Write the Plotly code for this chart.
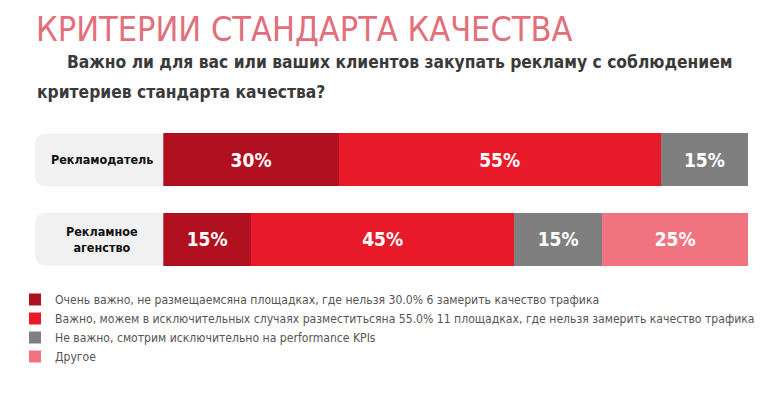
import plotly.graph_objects as go

categories = ["Рекламодатель", "Рекламное<br>агенство"]
series_names = [
    "Очень важно, не размещаемсяна площадках, где нельзя 30.0% 6 замерить качество трафика",
    "Важно, можем в исключительных случаях разместитьсяна 55.0% 11 площадках, где нельзя замерить качество трафика",
    "Не важно, смотрим исключительно на performance KPIs",
    "Другое",
]
very_important = [30, 15]
important = [55, 45]
not_important = [15, 15]
other = [0, 25]
series_values = [very_important, important, not_important, other]
colors = ["#b0101f", "#e81a2a", "#7f7f7f", "#f0737f"]

title_text = "КРИТЕРИИ СТАНДАРТА КАЧЕСТВА"
subtitle_line1 = "Важно ли для вас или ваших клиентов закупать рекламу с соблюдением"
subtitle_line2 = "критериев стандарта качества?"

NARROW = "Liberation Sans Narrow, DejaVu Sans Condensed, Arial Narrow, sans-serif"
# page has an 8px body margin; figure sized to fit the 770x398 window
OFF = 8
W, H = 770 - 2 * OFF, 398 - 2 * OFF

fig = go.Figure()
for i, (name, vals, col) in enumerate(zip(series_names, series_values, colors)):
    fig.add_trace(go.Bar(
        y=categories, x=vals, name=name, orientation="h",
        legendgroup=f"g{i}",
        marker=dict(color=col, line=dict(width=0)),
        text=[f"{v}%" if v else "" for v in vals],
        textposition="inside", insidetextanchor="middle",
        textfont=dict(family=NARROW, size=19, color="white", weight="bold"),
        hoverinfo="skip",
    ))


def px(x):
    return (x - OFF) / W


def py(y):
    return 1 - (y - OFF) / H


shapes = []
for (yt, yb) in [(133.5, 186.5), (212.5, 265.5)]:
    x0, x1, r = 35, 166, 12
    path = (f"M {px(x0 + r)},{py(yt)} L {px(x1)},{py(yt)} L {px(x1)},{py(yb)} "
            f"L {px(x0 + r)},{py(yb)} Q {px(x0)},{py(yb)} {px(x0)},{py(yb - r)} "
            f"L {px(x0)},{py(yt + r)} Q {px(x0)},{py(yt)} {px(x0 + r)},{py(yt)} Z")
    shapes.append(dict(type="path", path=path, xref="paper", yref="paper",
                       fillcolor="#f1f1f1", line=dict(width=0), layer="below"))

annotations = [
    dict(text=title_text, x=px(35), y=py(8), xref="paper", yref="paper",
         xanchor="left", yanchor="top", showarrow=False, borderpad=0,
         font=dict(family=NARROW, size=34, color="#e2707c")),
    dict(text=subtitle_line1, x=px(65), y=py(62), xref="paper", yref="paper",
         xanchor="left", yanchor="middle", showarrow=False,
         font=dict(family=NARROW, size=17.3, color="#3a3a3a", weight="bold")),
    dict(text=subtitle_line2, x=px(35), y=py(92), xref="paper", yref="paper",
         xanchor="left", yanchor="middle", showarrow=False,
         font=dict(family=NARROW, size=17.3, color="#3a3a3a", weight="bold")),
]
for cat in categories:
    annotations.append(dict(text=cat, x=px(102), y=cat, xref="paper", yref="y",
                            xanchor="center", yanchor="middle", showarrow=False,
                            font=dict(family=NARROW, size=12.5, color="#111111", weight="bold")))

fig.update_layout(
    width=W, height=H,
    margin=dict(l=0, r=0, t=0, b=0),
    paper_bgcolor="white", plot_bgcolor="white",
    barmode="stack", bargap=0.33,
    xaxis=dict(domain=[px(163.3), px(748.3)], range=[0, 100], visible=False, fixedrange=True),
    yaxis=dict(domain=[py(279), py(120)], autorange="reversed", visible=False,
               type="category"),
    shapes=shapes,
    annotations=annotations,
    showlegend=True,
    legend=dict(x=px(15), y=py(285), xanchor="left", yanchor="top",
                orientation="v", traceorder="normal",
                font=dict(family=NARROW, size=12.1, color="#555555"),
                itemwidth=30, tracegroupgap=4.5, bgcolor="rgba(0,0,0,0)"),
)

fig.write_html("out.html")
